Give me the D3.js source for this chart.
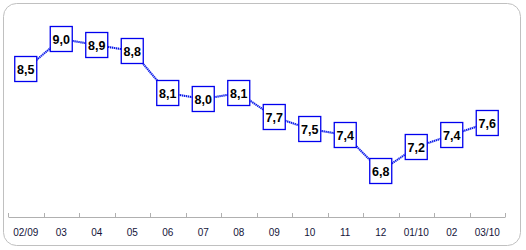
<!DOCTYPE html>
<html><head><meta charset="utf-8">
<script src="https://cdn.jsdelivr.net/npm/d3@7"></script>
<style>body{margin:0;background:#fff}svg{display:block}</style>
</head><body>
<script>
const categories = ["02/09","03","04","05","06","07","08","09","10","11","12","01/10","02","03/10"];
const values = [8.5,9.0,8.9,8.8,8.1,8.0,8.1,7.7,7.5,7.4,6.8,7.2,7.4,7.6];
const labels = ["8,5","9,0","8,9","8,8","8,1","8,0","8,1","7,7","7,5","7,4","6,8","7,2","7,4","7,6"];

const W=526,H=250;
const svg=d3.select("body").append("svg").attr("width",W).attr("height",H);
svg.append("rect").attr("x",3.5).attr("y",3.5).attr("width",517).attr("height",242)
  .attr("rx",13).attr("fill","#fff").attr("stroke","#c0c0c0").attr("stroke-width",1);

const x=d3.scaleBand().domain(categories).range([8,505]);
const y=d3.scaleLinear().domain([6.8,9.0]).range([171,39]);
const axisY=217;

const ax=svg.append("g").attr("transform",`translate(0,${axisY})`)
  .call(d3.axisTop(x).tickSize(0).tickFormat(""));
ax.select(".domain").attr("stroke","#b0b0b0");
const bounds=categories.map(c=>x(c)).concat([x.range()[1]]);
svg.append("g").selectAll("line").data(bounds).join("line")
  .attr("x1",d=>Math.round(d)+0.5).attr("x2",d=>Math.round(d)+0.5)
  .attr("y1",axisY-4).attr("y2",axisY).attr("stroke","#b0b0b0");
svg.append("g").selectAll("text").data(categories).join("text")
  .attr("x",d=>x(d)+x.bandwidth()/2).attr("y",236)
  .attr("text-anchor","middle").attr("font-family","Liberation Sans, Arial, sans-serif")
  .attr("font-size",10).attr("fill","#14143a").text(d=>d);

const pts=values.map((v,i)=>[x(categories[i])+x.bandwidth()/2,y(v)]);
svg.append("path").attr("d",d3.line()(pts)).attr("fill","none")
  .attr("stroke","#a8b0ff").attr("stroke-width",2);
svg.append("path").attr("d",d3.line()(pts)).attr("fill","none")
  .attr("stroke","#0010e0").attr("stroke-width",2).attr("stroke-dasharray","1,1");

const g=svg.append("g").selectAll("g").data(values).join("g")
  .attr("transform",(d,i)=>`translate(${pts[i][0]},${pts[i][1]})`);
g.append("rect").attr("x",-11).attr("y",-12.5).attr("width",22).attr("height",25)
  .attr("fill","#fff").attr("stroke","#0000ee").attr("stroke-width",1.3);
g.append("text").attr("text-anchor","middle").attr("y",4.5)
  .attr("font-family","Liberation Sans, Arial, sans-serif").attr("font-weight","bold")
  .attr("font-size",12.5).attr("fill","#000").text((d,i)=>labels[i]);
</script>
</body></html>
